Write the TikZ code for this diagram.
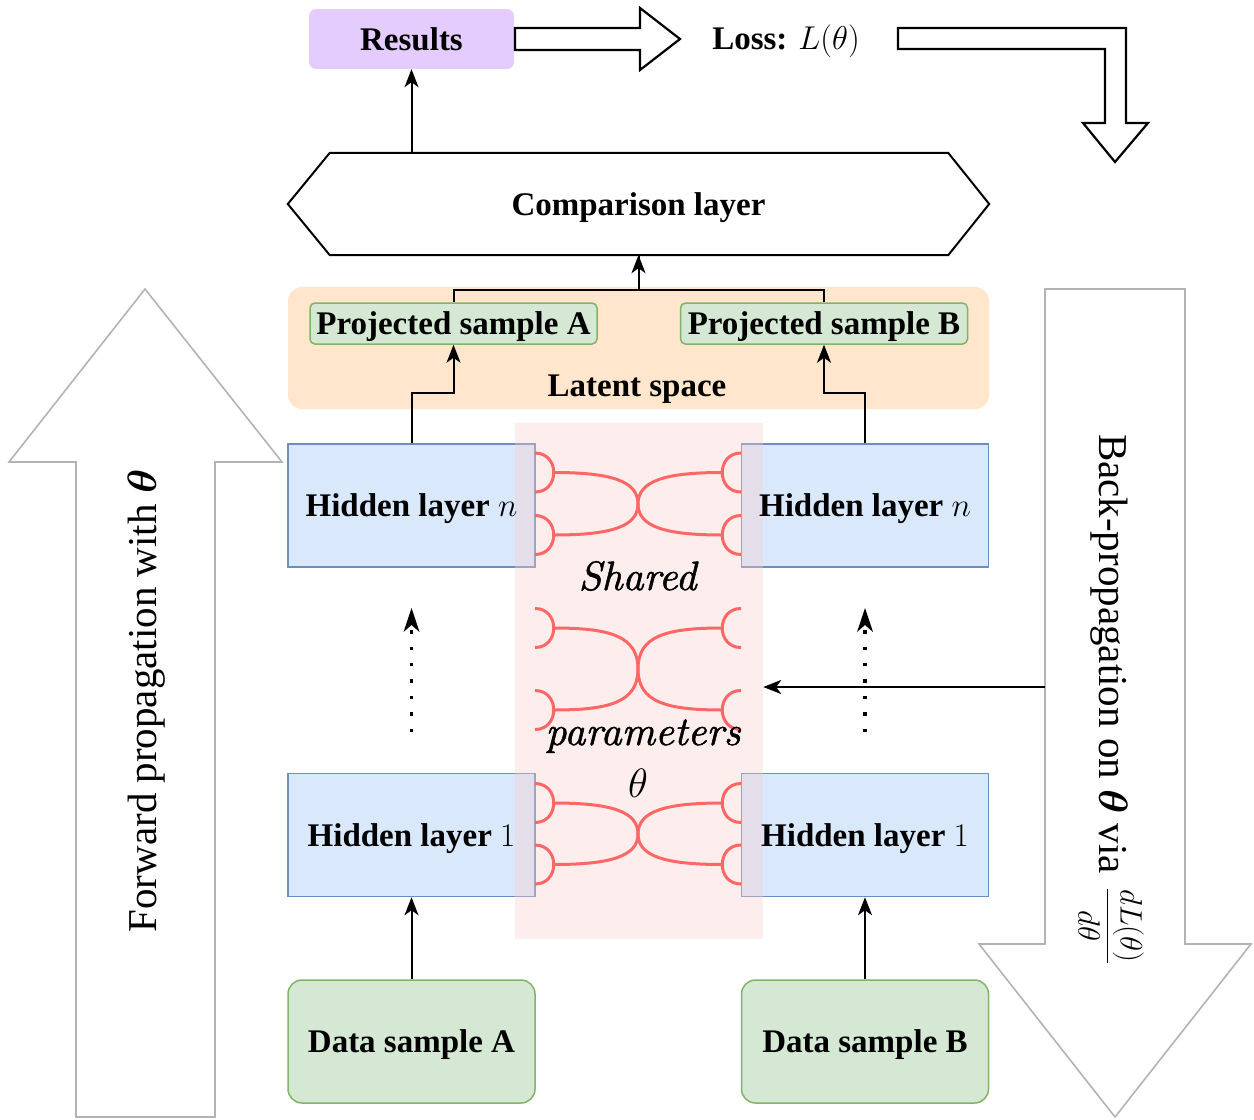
\RequirePackage{fix-cm}
\documentclass[tikz,border=0pt]{standalone}
\usepackage{amsmath}
\usepackage{bm}
\usepackage{fontspec}
\setmainfont{Liberation Serif}
\newfontfamily\lmserif{lmroman10-regular.otf}[ItalicFont=lmroman10-italic.otf, ItalicFeatures={FakeBold=1.2}]
\usetikzlibrary{arrows.meta,calc}

\definecolor{hfill}{HTML}{DAE8FC}
\definecolor{hline}{HTML}{6C8EBF}
\definecolor{gfill}{HTML}{D5E8D4}
\definecolor{gline}{HTML}{82B366}
\definecolor{latfill}{HTML}{FFE6CC}
\definecolor{resfill}{HTML}{E5CCFF}
\definecolor{shfill}{HTML}{F8CECC}
\definecolor{ifred}{HTML}{FF6666}
\definecolor{bigline}{HTML}{B3B3B3}

\begin{document}
\begin{tikzpicture}[x=1pt,y=-1pt,
  lbl/.style={font=\fontsize{33}{40}\selectfont\bfseries, text depth=0pt},
  bigtext/.style={font=\fontsize{41}{49}\selectfont},
  ittext/.style={font=\lmserif\itshape\fontsize{41}{49}\selectfont, anchor=base, inner sep=0pt},
  hid/.style={draw=hline, fill=hfill, line width=1.5pt, minimum width=247pt, minimum height=123pt, inner sep=0pt},
  dat/.style={draw=gline, fill=gfill, line width=1.5pt, rounded corners=14pt, minimum width=247pt, minimum height=123pt, inner sep=0pt, lbl},
  proj/.style={draw=gline, fill=gfill, line width=1.5pt, rounded corners=5pt, minimum width=287pt, minimum height=41pt, inner sep=0pt, lbl},
  latent/.style={fill=latfill, rounded corners=14pt, minimum width=701pt, minimum height=122pt, inner sep=0pt},
  res/.style={fill=resfill, rounded corners=7pt, minimum width=205pt, minimum height=60pt, inner sep=0pt, lbl},
  sharedbox/.style={fill=shfill, fill opacity=0.35, minimum width=248pt, minimum height=516pt, inner sep=0pt},
  conn/.style={line width=2pt},
  arr/.style={conn, -{Stealth[length=18pt,width=14pt,inset=5pt]}},
  dotarr/.style={line width=3.5pt, dash pattern=on 3.5pt off 12.9pt,
     -{Stealth[length=24pt,width=16pt,inset=7pt,line width=0pt,sep=0pt]}},
  redline/.style={draw=ifred, line width=3pt},
  blockarrow/.style={draw=black, fill=white, line width=2.2pt, line join=miter},
  bigarrow/.style={draw=bigline, fill=white, line width=1.6pt, line join=miter}
]
\useasboundingbox (0,0) rectangle (1254,1120);

% forward and backward propagation arrows
\draw[bigarrow] (145,289) -- (282,462) -- (215,462) -- (215,1117) -- (76,1117) -- (76,462) -- (9,462) -- cycle;
\node[bigtext, rotate=90] (fwd) at (147,701) {Forward propagation with $\bm{\theta}$};
\draw[bigarrow] (1045,289) -- (1185,289) -- (1185,944) -- (1251,944) -- (1115,1117) -- (979,944) -- (1045,944) -- cycle;
\node[bigtext, rotate=-90] (bwd) at (1111,699) {Back-propagation on $\bm{\theta}$ via\hspace{4pt}
  {\fontsize{31}{37}\selectfont$\dfrac{dL(\theta)}{d\theta}$}};

% latent space with the two projections
\node[latent] (lat) at (638.5,348) {};
\node[lbl] (latlbl) at (637,386) {Latent space};
\node[proj] (pA) at (453.5,323.5) {Projected sample A};
\node[proj] (pB) at (824,323.5) {Projected sample B};

% comparison layer (hexagon)
\node[lbl, minimum width=701pt, minimum height=102pt, inner sep=0pt] (comp) at (638.5,204) {Comparison layer};
\draw[line width=2pt, line join=miter] (comp.west) -- ($(comp.north west)+(42,0)$) -- ($(comp.north east)+(-41,0)$)
  -- (comp.east) -- ($(comp.south east)+(-41,0)$) -- ($(comp.south west)+(42,0)$) -- cycle;

% results and loss
\node[res] (res) at (411.5,39) {Results};
\draw[blockarrow] (515,28) -- (640,28) -- (640,8) -- (680,39) -- (640,70) -- (640,50) -- (515,50) -- cycle;
\node[lbl] (loss) at (786,37) {Loss: $L(\theta)$};
\draw[blockarrow] (898,28) -- (1126,28) -- (1126,123) -- (1148,123) -- (1115,162) -- (1083,123) -- (1105,123) -- (1105,49) -- (898,49) -- cycle;

% hidden layers and inputs
\node[hid] (hnA) at (411.5,505.5) {};
\node[hid] (hnB) at (865,505.5) {};
\node[hid] (h1A) at (411.5,835) {};
\node[hid] (h1B) at (865,835) {};
\node[dat] (dA) at (411.5,1041.5) {Data sample A};
\node[dat] (dB) at (865,1041.5) {Data sample B};

% connectors
\draw[arr] (dA) -- (h1A);
\draw[arr] (dB) -- (h1B);
\coordinate (dotA0) at (411.5,732);
\coordinate (dotA1) at (411.5,608);
\coordinate (dotB0) at (865,732);
\coordinate (dotB1) at (865,608);
\draw[dotarr] (dotA0) -- (dotA1);
\draw[dotarr] (dotB0) -- (dotB1);
\draw[arr] (hnA.north) -- ++(0,-50) -| (pA.south);
\draw[arr] (hnB.north) -- ++(0,-50) -| (pB.south);
\draw[arr] (pA.north) -- ++(0,-12) -| (comp.south);
\draw[conn] (pB.north) -- ++(0,-12) -| (comp.south);
\draw[arr] (res.south |- comp.north) -- (res.south);

% shared parameter region
\node[sharedbox] (sh) at (639,681) {};
\foreach \ya/\yb/\ym in {472.5/535/504, 628/710/669, 803/864.5/834}{
  \draw[redline] (535,\ya-19.5) .. controls (560,\ya-19.5) and (560,\ya+19.5) .. (535,\ya+19.5);
  \draw[redline] (535,\yb-19.5) .. controls (560,\yb-19.5) and (560,\yb+19.5) .. (535,\yb+19.5);
  \draw[redline] (741,\ya-19.5) .. controls (716,\ya-19.5) and (716,\ya+19.5) .. (741,\ya+19.5);
  \draw[redline] (741,\yb-19.5) .. controls (716,\yb-19.5) and (716,\yb+19.5) .. (741,\yb+19.5);
  \draw[redline] (553.75,\ya) .. controls (610,\ya) and (638,\ya+8) .. (638,\ym);
  \draw[redline] (553.75,\yb) .. controls (610,\yb) and (638,\yb-8) .. (638,\ym);
  \draw[redline] (722.25,\ya) .. controls (666,\ya) and (638,\ya+8) .. (638,\ym);
  \draw[redline] (722.25,\yb) .. controls (666,\yb) and (638,\yb-8) .. (638,\ym);
}
\coordinate (bp) at (1045,687);
\draw[arr] (bp) -- (sh.east |- bp);

% labels
\node[lbl] (hnAt) at (hnA) {Hidden layer $n$};
\node[lbl] (hnBt) at (hnB) {Hidden layer $n$};
\node[lbl] (h1At) at (h1A) {Hidden layer $1$};
\node[lbl] (h1Bt) at (h1B) {Hidden layer $1$};
\node[ittext] (shA) at (637.5,590) {Shared};
\node[ittext] (shB) at (643,745) {parameters};
\node[ittext] (shC) at (638,797) {$\theta$};
\end{tikzpicture}
\end{document}
